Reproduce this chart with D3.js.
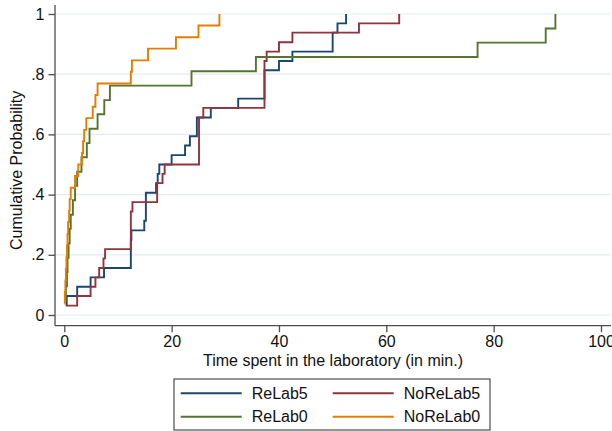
<!DOCTYPE html>
<html>
<head>
<meta charset="utf-8">
<script src="https://cdn.jsdelivr.net/npm/d3@7"></script>
<style>
  body { margin: 0; background: #fff; }
  svg { display: block; font-family: "Liberation Sans", Arial, sans-serif; }
  .grid line { stroke: #e3ebee; stroke-width: 1.2; }
  .tick text { fill: #111; font-size: 16px; }
  .axis-line { stroke: #4d4d4d; stroke-width: 1.3; }
  .line-path { fill: none; stroke-width: 1.9; }
</style>
</head>
<body>
<svg id="chart" width="612" height="431"></svg>
<script>
// series: time (min.) and cumulative probability
const categories = ["ReLab5", "NoReLab5", "ReLab0", "NoReLab0"];

const relab5Time = [0.45, 0.45, 2.4, 4.9, 7.4, 12.4, 12.4, 12.4, 12.5, 14.9, 15.2, 15.2,
  15.2, 17.1, 17.4, 17.7, 20.0, 22.5, 23.4, 24.7, 24.7, 27.3, 32.4, 37.3, 37.3, 37.3,
  40.0, 42.5, 50.0, 50.0, 50.9, 52.5];
const relab5Cum = [0.031, 0.063, 0.094, 0.125, 0.156, 0.188, 0.219, 0.25, 0.281, 0.313,
  0.344, 0.375, 0.406, 0.438, 0.469, 0.5, 0.531, 0.563, 0.594, 0.625, 0.656, 0.688,
  0.719, 0.75, 0.781, 0.813, 0.844, 0.875, 0.906, 0.938, 0.969, 1];

const noRelab5Time = [0.26, 2.4, 4.9, 5.8, 6.5, 7.3, 7.6, 12.4, 12.4, 12.4, 12.4, 12.7,
  17.3, 17.3, 18.3, 18.7, 25.1, 25.1, 25.1, 25.1, 25.1, 25.9, 37.3, 37.3, 37.3, 37.3,
  37.3, 37.7, 40.0, 42.5, 54.9, 62.4];
const noRelab5Cum = [0.031, 0.063, 0.094, 0.125, 0.156, 0.188, 0.219, 0.25, 0.281, 0.313,
  0.344, 0.375, 0.406, 0.438, 0.469, 0.5, 0.531, 0.563, 0.594, 0.625, 0.656, 0.688,
  0.719, 0.75, 0.781, 0.813, 0.844, 0.875, 0.906, 0.938, 0.969, 1];

const relab0Time = [0.2, 0.3, 0.5, 0.6, 0.8, 1.0, 1.2, 1.6, 2.0, 2.4, 3.2, 4.2, 4.7,
  6.2, 7.45, 8.5, 23.7, 35.7, 77.0, 89.7, 91.5];
const relab0Cum = [0.048, 0.095, 0.143, 0.19, 0.238, 0.286, 0.333, 0.381, 0.429, 0.476,
  0.524, 0.571, 0.619, 0.667, 0.714, 0.762, 0.81, 0.857, 0.905, 0.952, 1];

const noRelab0Time = [0.0, 0.1, 0.2, 0.3, 0.4, 0.5, 0.6, 0.7, 0.9, 1.0, 1.2, 2.0, 2.6,
  3.3, 3.5, 3.7, 4.1, 5.3, 5.8, 6.2, 12.4, 12.6, 15.6, 20.8, 25.0, 28.9];
const noRelab0Cum = [0.038, 0.077, 0.115, 0.154, 0.192, 0.231, 0.269, 0.308, 0.346,
  0.385, 0.423, 0.462, 0.5, 0.538, 0.577, 0.615, 0.654, 0.692, 0.731, 0.769, 0.808,
  0.846, 0.885, 0.923, 0.962, 1];

const colors = ["#1a476f", "#90353b", "#55752f", "#e37e00"];
const xTicks = [0, 20, 40, 60, 80, 100];
const yTicks = [0, 0.2, 0.4, 0.6, 0.8, 1];
const yTickLabels = ["0", ".2", ".4", ".6", ".8", "1"];
const xAxisLabel = "Time spent in the laboratory (in min.)";
const yAxisLabel = "Cumulative Probability";

const series = [
  { key: categories[0], times: relab5Time, cums: relab5Cum },
  { key: categories[1], times: noRelab5Time, cums: noRelab5Cum },
  { key: categories[2], times: relab0Time, cums: relab0Cum },
  { key: categories[3], times: noRelab0Time, cums: noRelab0Cum },
].map((s) => ({ key: s.key, values: s.times.map((t, i) => ({ t, p: s.cums[i] })) }));

const svg = d3.select("#chart");

// plot region, in page pixels
const plotLeft = 55;
const plotRight = 611;
const plotTop = 5;
const plotBottom = 325.7;

const xScale = d3.scaleLinear().domain([0, 100]).range([64.3, 601]);
const yScale = d3.scaleLinear().domain([0, 1]).range([315, 14]);
const colorScale = d3.scaleOrdinal().domain(categories).range(colors);

//grid
svg
  .append("g")
  .attr("class", "grid")
  .selectAll("line")
  .data(yTicks)
  .enter()
  .append("line")
  .attr("x1", plotLeft)
  .attr("x2", plotRight)
  .attr("y1", (d) => yScale(d))
  .attr("y2", (d) => yScale(d));

const yAxis = d3
  .axisLeft(yScale)
  .tickValues(yTicks)
  .tickFormat((d, i) => yTickLabels[i])
  .tickSize(6.5)
  .tickPadding(4);

const yAxisG = svg
  .append("g")
  .attr("transform", `translate(${plotLeft},0)`)
  .call(yAxis);
yAxisG.select(".domain").remove();

const xAxis = d3.axisBottom(xScale).tickValues(xTicks).tickSize(6.5).tickPadding(3);

const xAxisG = svg
  .append("g")
  .attr("transform", `translate(0,${plotBottom})`)
  .call(xAxis);
xAxisG.select(".domain").remove();

svg.selectAll(".tick line").attr("stroke", "#4d4d4d").attr("stroke-width", 1.3);

svg
  .append("line")
  .attr("class", "axis-line")
  .attr("x1", plotLeft)
  .attr("x2", plotLeft)
  .attr("y1", plotTop)
  .attr("y2", plotBottom);

svg
  .append("line")
  .attr("class", "axis-line")
  .attr("x1", plotLeft)
  .attr("x2", plotRight)
  .attr("y1", plotBottom)
  .attr("y2", plotBottom);

// axis titles
svg
  .append("text")
  .attr("x", 333)
  .attr("y", 366)
  .attr("text-anchor", "middle")
  .attr("font-size", 16)
  .attr("fill", "#111")
  .text(xAxisLabel);

svg
  .append("text")
  .attr("transform", `translate(22,${(plotTop + plotBottom) / 2 + 5}) rotate(-90)`)
  .attr("text-anchor", "middle")
  .attr("font-size", 16)
  .attr("fill", "#111")
  .text(yAxisLabel);

const lineGenerator = d3
  .line()
  .x((d) => xScale(d.t))
  .y((d) => yScale(d.p))
  .curve(d3.curveStepAfter);

svg
  .append("g")
  .selectAll(".line-path")
  .data(series)
  .enter()
  .append("path")
  .attr("class", "line-path")
  .attr("d", (d) => lineGenerator(d.values))
  .attr("stroke", (d) => colorScale(d.key));

//legend
const legend = svg.append("g").attr("transform", "translate(174,379)");

legend
  .append("rect")
  .attr("width", 316)
  .attr("height", 51)
  .attr("fill", "#fff")
  .attr("stroke", "#4d4d4d")
  .attr("stroke-width", 1.2);

const legendItems = legend
  .selectAll(".legend-item")
  .data(categories)
  .enter()
  .append("g")
  .attr("class", "legend-item")
  .attr("transform", (d, i) => `translate(${(i % 2) * 152},${Math.floor(i / 2) * 23.4 + 14.3})`);

legendItems
  .append("line")
  .attr("x1", 6.7)
  .attr("x2", 67.7)
  .attr("stroke", (d) => colorScale(d))
  .attr("stroke-width", 1.9);

legendItems
  .append("text")
  .attr("x", 77.7)
  .attr("dy", "0.36em")
  .attr("font-size", 16)
  .attr("fill", "#111")
  .text((d) => d);
</script>
</body>
</html>
